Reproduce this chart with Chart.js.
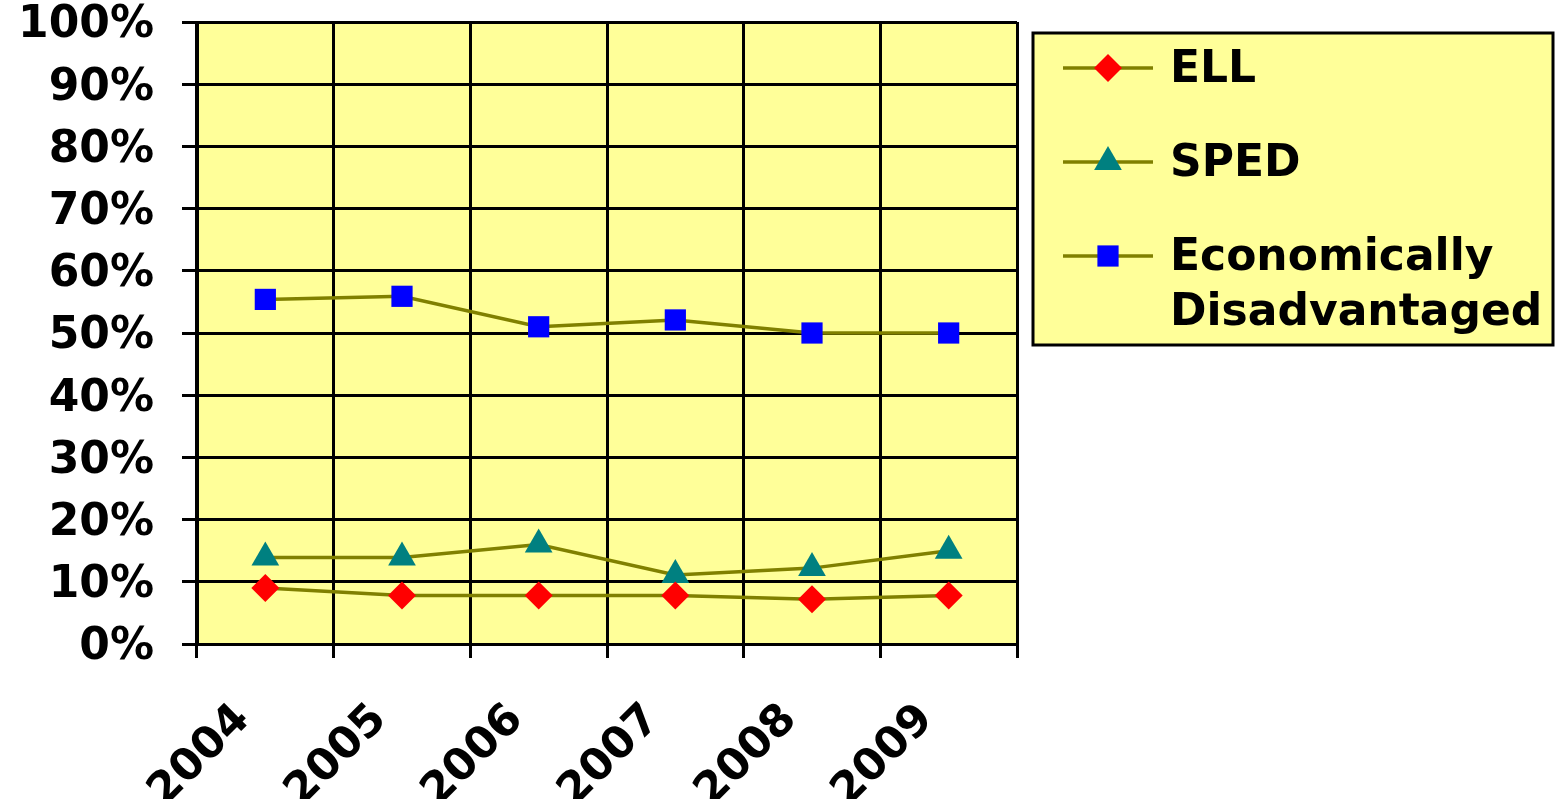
<!DOCTYPE html>
<html>
<head>
<meta charset="utf-8">
<script src="https://cdn.jsdelivr.net/npm/chart.js@4/dist/chart.umd.min.js"></script>
<style>
  html, body { margin: 0; padding: 0; background: #ffffff; }
  #wrap { width: 1567px; height: 799px; }
</style>
</head>
<body>
<div id="wrap"><canvas id="trendChart" width="1567" height="799"></canvas></div>
<script>
// categories and series
const years = ['2004', '2005', '2006', '2007', '2008', '2009'];
const ellValues = [9.0, 7.8, 7.8, 7.8, 7.2, 7.8];
const spedValues = [13.9, 13.9, 16.0, 11.1, 12.2, 15.0];
const econValues = [55.4, 55.9, 51.0, 52.1, 50.0, 50.0];
const seriesNames = ['ELL', 'SPED', 'Economically Disadvantaged'];
const yTicks = [0, 10, 20, 30, 40, 50, 60, 70, 80, 90, 100];

const FONT = '"DejaVu Sans", Verdana, sans-serif';
const lineColor = '#808000';
const plotFill = '#FFFF99';

// yellow plot background
const plotBackground = {
    id: 'plotBackground',
    beforeDraw(chart) {
        const a = chart.chartArea;
        const ctx = chart.ctx;
        ctx.save();
        ctx.fillStyle = plotFill;
        ctx.fillRect(a.left, a.top, a.right - a.left, a.bottom - a.top);
        ctx.restore();
    }
};

// boxed legend on the right, like the original
const boxLegend = {
    id: 'boxLegend',
    afterDraw(chart) {
        const ctx = chart.ctx;
        const box = { x: 1033, y: 33, w: 520, h: 312 };
        ctx.save();
        ctx.fillStyle = plotFill;
        ctx.fillRect(box.x, box.y, box.w, box.h);
        ctx.lineWidth = 3;
        ctx.strokeStyle = '#000000';
        ctx.strokeRect(box.x, box.y, box.w, box.h);

        const rowY = [68, 162, 256];
        const lineGap = 55;
        chart.data.datasets.forEach((ds, i) => {
            const y = rowY[i];
            ctx.strokeStyle = lineColor;
            ctx.lineWidth = 3.5;
            ctx.beginPath();
            ctx.moveTo(1063, y);
            ctx.lineTo(1153, y);
            ctx.stroke();
            ctx.fillStyle = ds.pointBackgroundColor;
            ctx.strokeStyle = ds.pointBackgroundColor;
            Chart.helpers.drawPoint(ctx, {
                pointStyle: ds.pointStyle,
                radius: ds.pointRadius,
                rotation: 0,
                borderWidth: 0
            }, 1108, y);

            ctx.fillStyle = '#000000';
            ctx.font = 'bold 44px ' + FONT;
            ctx.textBaseline = 'middle';
            ctx.textAlign = 'left';
            const words = ds.label.split(' ');
            const lines = words.length > 1 ? words : [ds.label];
            lines.forEach((t, k) => ctx.fillText(t, 1170, y + 3 + k * lineGap));
        });
        ctx.restore();
    }
};

function makeDataset(label, data, color, style, radius) {
    return {
        label: label,
        data: data,
        borderColor: lineColor,
        borderWidth: 3.5,
        backgroundColor: color,
        pointBackgroundColor: color,
        pointBorderColor: color,
        pointBorderWidth: 0,
        pointStyle: style,
        pointRadius: radius,
        pointHoverRadius: radius,
        tension: 0,
        fill: false
    };
}

const ctx = document.getElementById('trendChart').getContext('2d');
const chart = new Chart(ctx, {
    type: 'line',
    data: {
        labels: years,
        datasets: [
            makeDataset(seriesNames[0], ellValues, '#FF0000', 'rectRot', 14),
            makeDataset(seriesNames[1], spedValues, '#008080', 'triangle', 16),
            makeDataset(seriesNames[2], econValues, '#0000FF', 'rect', 15)
        ]
    },
    options: {
        responsive: false,
        animation: false,
        devicePixelRatio: 1,
        layout: {
            padding: { top: 22, right: 550, left: 0, bottom: 0 }
        },
        plugins: {
            legend: { display: false },
            title: { display: false },
            tooltip: { enabled: false }
        },
        scales: {
            x: {
                type: 'category',
                offset: true,
                afterFit: scale => {
                    scale.height = 155;
                    scale.paddingLeft = 0;
                    scale.paddingRight = 0;
                },
                grid: {
                    offset: true,
                    color: '#000000',
                    lineWidth: 3,
                    tickLength: 14,
                    drawTicks: true
                },
                border: { color: '#000000', width: 3 },
                ticks: {
                    color: '#000000',
                    font: { family: FONT, size: 44, weight: 'bold' },
                    minRotation: 45,
                    maxRotation: 45,
                    padding: 36,
                    labelOffset: -22,
                    autoSkip: false
                }
            },
            y: {
                min: 0,
                max: 100,
                afterFit: scale => {
                    scale.width = 197;
                    scale.paddingTop = 0;
                    scale.paddingBottom = 0;
                },
                afterBuildTicks: scale => {
                    scale.ticks = yTicks.map(v => ({ value: v }));
                },
                grid: {
                    color: '#000000',
                    lineWidth: 3,
                    tickLength: 15
                },
                border: { color: '#000000', width: 3 },
                ticks: {
                    color: '#000000',
                    font: { family: FONT, size: 44, weight: 'bold' },
                    padding: 28,
                    labelOffset: 4,
                    callback: value => value + '%'
                }
            }
        }
    },
    plugins: [plotBackground, boxLegend]
});
</script>
</body>
</html>
